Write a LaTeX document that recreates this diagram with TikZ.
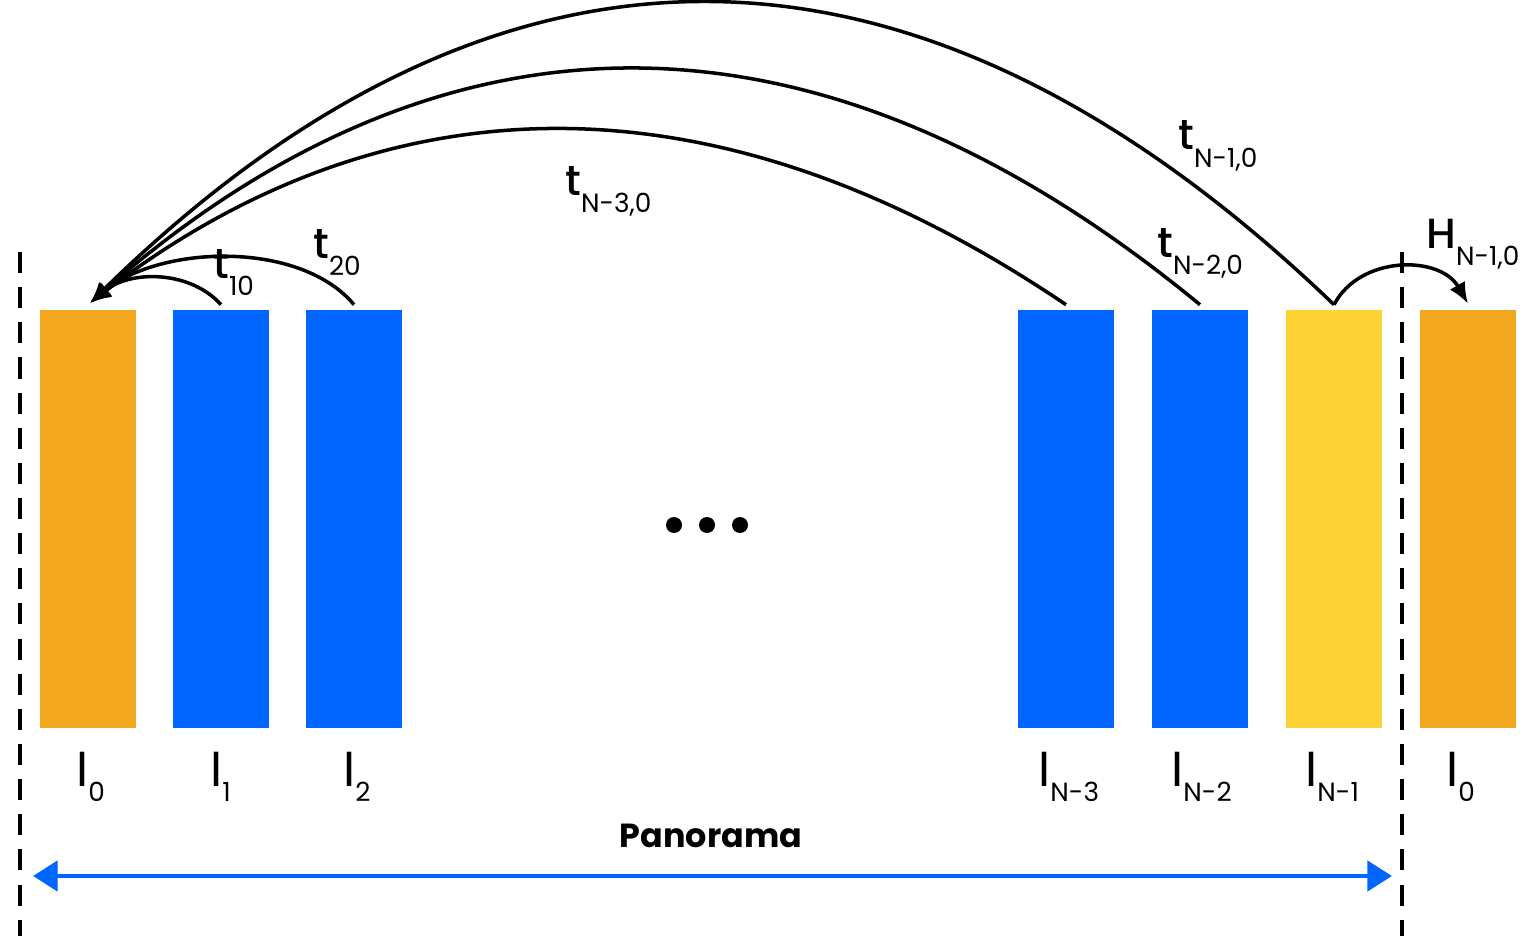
\documentclass[tikz,border=0pt]{standalone}
\usepackage{fontspec}
\setmainfont{Poppins}
\newfontfamily\medfont{Poppins Medium}
\usetikzlibrary{arrows.meta}
\definecolor{imgorange}{HTML}{F2A71E}
\definecolor{imgyellow}{HTML}{FDD235}
\definecolor{imgblue}{HTML}{0066FF}
\newcommand{\tlab}[2]{{\fontsize{24}{24}\medfont #1}\raisebox{-10pt}{\fontsize{15}{15}\selectfont #2}}
\newcommand{\ilab}[2]{{\fontsize{28}{28}\selectfont #1}\raisebox{-9pt}{\fontsize{15}{15}\selectfont #2}}
\tikzset{
    img/.style={minimum width=1.92cm, minimum height=8.36cm, inner sep=0pt},
    lab/.style={anchor=base west, inner sep=0pt},
    arc/.style={line width=2pt, -{Latex[length=12pt, width=10pt]}},
    sep/.style={line width=2.2pt, dash pattern=on 12pt off 8pt},
    dot/.style={circle, fill, inner sep=0pt, minimum size=0.32cm}
}
\begin{document}
\begin{tikzpicture}[x=0.02cm, y=-0.02cm]
        \useasboundingbox (0, 0) rectangle (1532, 936);
        \node[img, fill=imgorange] (i0) at (88, 519) {};
        \node[img, fill=imgblue] (i1) at (221, 519) {};
        \node[img, fill=imgblue] (i2) at (354, 519) {};
        \node[img, fill=imgblue] (in3) at (1066, 519) {};
        \node[img, fill=imgblue] (in2) at (1200, 519) {};
        \node[img, fill=imgyellow] (in1) at (1334, 519) {};
        \node[img, fill=imgorange] (i0r) at (1468, 519) {};
        \node[dot] (d1) at (674, 525) {};
        \node[dot] (d2) at (707, 525) {};
        \node[dot] (d3) at (740, 525) {};
        \draw[sep] (20, 252) -- (20, 936);
        \draw[sep] (1402, 252) -- (1402, 936);
        \node[lab] at (76, 786) {\ilab{I}{0}};
        \node[lab] at (210, 786) {\ilab{I}{1}};
        \node[lab] at (343, 786) {\ilab{I}{2}};
        \node[lab] at (1038, 786) {\ilab{I}{N-3}};
        \node[lab] at (1171, 786) {\ilab{I}{N-2}};
        \node[lab] at (1305, 786) {\ilab{I}{N-1}};
        \node[lab] at (1446, 786) {\ilab{I}{0}};
        \coordinate (tip) at (90, 303);
        \draw[arc] ([yshift=0.1cm]i1.north) .. controls (190, 270) and (130, 270) .. (tip);
        \draw[arc] ([yshift=0.1cm]i2.north) .. controls (300, 240) and (160, 245) .. (tip);
        \draw[arc] ([yshift=0.1cm]in3.north) .. controls (667, 35) and (340, 111) .. (tip);
        \draw[arc] ([yshift=0.1cm]in2.north) .. controls (760, -58) and (385, 44) .. (tip);
        \draw[arc] ([yshift=0.1cm]in1.north) .. controls (850, -160) and (430, -30) .. (tip);
        \draw[arc] ([yshift=0.1cm]in1.north) .. controls (1360, 255) and (1440, 255) .. ([yshift=0.12cm]i0r.north);
        \node[lab] (t10) at (213, 278) {\tlab{t}{10}};
        \node[lab] (t20) at (313, 258) {\tlab{t}{20}};
        \node[lab] (tn30) at (565, 195) {\tlab{t}{N-3,0}};
        \node[lab] (tn20) at (1157, 257) {\tlab{t}{N-2,0}};
        \node[lab] (tn10) at (1178, 150) {\tlab{t}{N-1,0}};
        \node[lab] (hn10) at (1426, 248) {\tlab{H}{N-1,0}};
        \node[anchor=base, inner sep=0pt, font=\fontsize{19}{19}\bfseries] (pano) at (711, 847) {Panorama};
        \coordinate (pl) at (33, 876);
        \coordinate (pr) at (1392, 876);
        \draw[imgblue, line width=2.8pt, {Triangle[length=14pt, width=17pt]}-{Triangle[length=14pt, width=17pt]}] (pl) -- (pr);
    \end{tikzpicture}
\end{document}
